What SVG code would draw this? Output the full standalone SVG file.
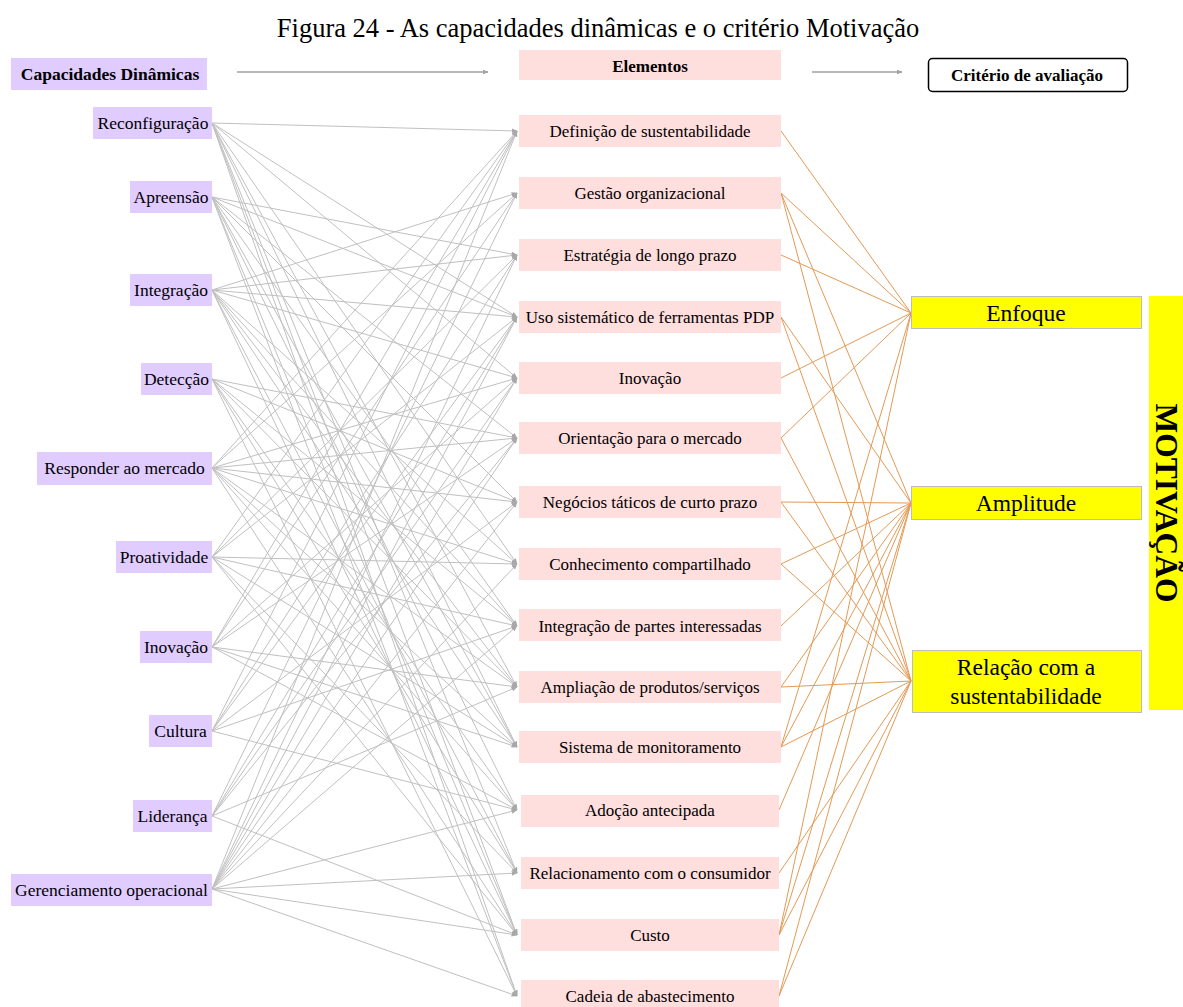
<svg xmlns="http://www.w3.org/2000/svg" width="1183" height="1007" viewBox="0 0 1183 1007">
<style>
text{font-family:"Liberation Serif","Times New Roman",serif;fill:#000}
.cap rect{fill:#E0CCFF}
.cap text{font-size:17.5px;text-anchor:middle}
.el rect{fill:#FFDEDE}
.el text{font-size:17px;text-anchor:middle}
.cr rect{fill:#FFFF00;stroke:#BDBDBD;stroke-width:1}
.cr text{font-size:23.5px;text-anchor:middle}
.g path{stroke:#C0C0C0;stroke-width:1;fill:none;marker-end:url(#ah)}
.o path{stroke:#E39A55;stroke-width:1;fill:none}
.hd{stroke:#A0A0A0;stroke-width:1.5;fill:none;marker-end:url(#ah2)}
</style>
<defs>
<marker id="ah" viewBox="0 0 10 10" refX="9" refY="5" markerWidth="6" markerHeight="6" markerUnits="userSpaceOnUse" orient="auto"><path d="M0 1L10 5L0 9Z" fill="#A8A8A8"/></marker>
<marker id="ah2" viewBox="0 0 10 10" refX="9" refY="5" markerWidth="6" markerHeight="6" markerUnits="userSpaceOnUse" orient="auto"><path d="M0 1L10 5L0 9Z" fill="#A0A0A0"/></marker>
</defs>
<rect width="1183" height="1007" fill="#fff"/>
<text x="598" y="37" font-size="26.5" text-anchor="middle">Figura 24 - As capacidades dinâmicas e o critério Motivação</text>

<g id="header">
<g id="h-cap" class="cap"><rect x="11" y="58" width="196" height="32"/><text x="110" y="80" font-weight="bold">Capacidades Dinâmicas</text></g>
<path class="hd" d="M237 72L488 72"/>
<g id="h-el" class="el"><rect x="519" y="50" width="262" height="30"/><text x="650" y="72" font-weight="bold">Elementos</text></g>
<path class="hd" d="M812 72L902 72"/>
<g id="h-crit"><rect x="928.5" y="58.5" width="199" height="33" rx="4" fill="#fff" stroke="#000" stroke-width="1.5"/><text x="1027" y="81" font-size="17" font-weight="bold" text-anchor="middle">Critério de avaliação</text></g>
</g>

<g id="connectors">
<g class="g">
<path d="M212 123L517 131"/><path d="M212 123L517 317"/><path d="M212 123L517 378"/><path d="M212 123L517 564"/><path d="M212 123L517 687"/><path d="M212 123L517 747"/><path d="M212 123L517 873"/><path d="M212 123L517 935"/><path d="M212 123L517 996"/>
<path d="M212 197L517 255"/><path d="M212 197L517 317"/><path d="M212 197L517 438"/><path d="M212 197L517 502"/><path d="M212 197L517 626"/><path d="M212 197L517 747"/><path d="M212 197L517 810"/><path d="M212 197L517 935"/><path d="M212 197L517 996"/>
<path d="M212 290L517 193"/><path d="M212 290L517 255"/><path d="M212 290L517 317"/><path d="M212 290L517 378"/><path d="M212 290L517 564"/><path d="M212 290L517 626"/><path d="M212 290L517 687"/><path d="M212 290L517 747"/><path d="M212 290L517 873"/><path d="M212 290L517 935"/>
<path d="M212 379L517 438"/><path d="M212 379L517 502"/><path d="M212 379L517 626"/><path d="M212 379L517 687"/><path d="M212 379L517 810"/><path d="M212 379L517 873"/><path d="M212 379L517 996"/>
<path d="M212 468L517 131"/><path d="M212 468L517 193"/><path d="M212 468L517 378"/><path d="M212 468L517 438"/><path d="M212 468L517 502"/><path d="M212 468L517 564"/><path d="M212 468L517 687"/><path d="M212 468L517 747"/><path d="M212 468L517 810"/><path d="M212 468L517 935"/>
<path d="M212 557L517 131"/><path d="M212 557L517 255"/><path d="M212 557L517 317"/><path d="M212 557L517 564"/><path d="M212 557L517 626"/><path d="M212 557L517 747"/><path d="M212 557L517 873"/><path d="M212 557L517 935"/>
<path d="M212 647L517 131"/><path d="M212 647L517 193"/><path d="M212 647L517 378"/><path d="M212 647L517 438"/><path d="M212 647L517 687"/><path d="M212 647L517 747"/><path d="M212 647L517 810"/>
<path d="M212 731L517 131"/><path d="M212 731L517 255"/><path d="M212 731L517 317"/><path d="M212 731L517 502"/><path d="M212 731L517 626"/><path d="M212 731L517 810"/>
<path d="M212 816L517 193"/><path d="M212 816L517 317"/><path d="M212 816L517 378"/><path d="M212 816L517 438"/><path d="M212 816L517 687"/><path d="M212 816L517 935"/>
<path d="M212 889L517 131"/><path d="M212 889L517 255"/><path d="M212 889L517 317"/><path d="M212 889L517 378"/><path d="M212 889L517 438"/><path d="M212 889L517 502"/><path d="M212 889L517 564"/><path d="M212 889L517 626"/><path d="M212 889L517 810"/><path d="M212 889L517 873"/><path d="M212 889L517 935"/><path d="M212 889L517 996"/>
</g>
<g class="o">
<path d="M781 131L911 313"/>
<path d="M781 193L911 313"/><path d="M781 193L911 503"/><path d="M781 193L911 681"/>
<path d="M781 255L911 313"/>
<path d="M781 317L911 503"/><path d="M781 317L911 681"/>
<path d="M781 378L911 313"/>
<path d="M781 438L911 313"/><path d="M781 438L911 681"/>
<path d="M781 502L911 503"/><path d="M781 502L911 681"/>
<path d="M781 564L911 503"/><path d="M781 564L911 681"/>
<path d="M781 626L911 503"/>
<path d="M781 687L911 681"/><path d="M781 687L911 503"/>
<path d="M781 747L911 313"/><path d="M781 747L911 503"/><path d="M781 747L911 681"/>
<path d="M779 810L911 503"/>
<path d="M779 873L911 681"/>
<path d="M779 935L911 313"/><path d="M779 935L911 503"/><path d="M779 935L911 681"/>
<path d="M779 996L911 503"/><path d="M779 996L911 681"/>
</g>
</g>

<g id="capacidades" class="cap">
<g id="c1"><rect x="93" y="107" width="119" height="32"/><text x="153" y="129">Reconfiguração</text></g>
<g id="c2"><rect x="130" y="181" width="82" height="32"/><text x="171" y="203">Apreensão</text></g>
<g id="c3"><rect x="130" y="274" width="82" height="32"/><text x="171" y="296">Integração</text></g>
<g id="c4"><rect x="141" y="363" width="71" height="32"/><text x="176.5" y="385">Detecção</text></g>
<g id="c5"><rect x="37" y="452" width="175" height="33"/><text x="124.5" y="474">Responder ao mercado</text></g>
<g id="c6"><rect x="116" y="541" width="96" height="32"/><text x="164" y="563">Proatividade</text></g>
<g id="c7"><rect x="140" y="631" width="72" height="32"/><text x="176" y="653">Inovação</text></g>
<g id="c8"><rect x="149" y="715" width="63" height="32"/><text x="180.5" y="737">Cultura</text></g>
<g id="c9"><rect x="133" y="800" width="79" height="32"/><text x="172.5" y="822">Liderança</text></g>
<g id="c10"><rect x="11" y="874" width="201" height="32"/><text x="111.5" y="896">Gerenciamento operacional</text></g>
</g>

<g id="elementos" class="el">
<g id="e1"><rect x="519" y="115" width="262" height="32"/><text x="650" y="137">Definição de sustentabilidade</text></g>
<g id="e2"><rect x="519" y="177" width="262" height="32"/><text x="650" y="199">Gestão organizacional</text></g>
<g id="e3"><rect x="519" y="239" width="262" height="32"/><text x="650" y="261">Estratégia de longo prazo</text></g>
<g id="e4"><rect x="519" y="301" width="262" height="32"/><text x="650" y="323">Uso sistemático de ferramentas PDP</text></g>
<g id="e5"><rect x="519" y="362" width="262" height="32"/><text x="650" y="384">Inovação</text></g>
<g id="e6"><rect x="519" y="422" width="262" height="32"/><text x="650" y="444">Orientação para o mercado</text></g>
<g id="e7"><rect x="519" y="486" width="262" height="32"/><text x="650" y="508">Negócios táticos de curto prazo</text></g>
<g id="e8"><rect x="519" y="548" width="262" height="32"/><text x="650" y="570">Conhecimento compartilhado</text></g>
<g id="e9"><rect x="519" y="609" width="262" height="32"/><text x="650" y="632">Integração de partes interessadas</text></g>
<g id="e10"><rect x="519" y="671" width="262" height="32"/><text x="650" y="693">Ampliação de produtos/serviços</text></g>
<g id="e11"><rect x="519" y="731" width="262" height="32"/><text x="650" y="753">Sistema de monitoramento</text></g>
<g id="e12"><rect x="521" y="795" width="258" height="32"/><text x="650" y="816">Adoção antecipada</text></g>
<g id="e13"><rect x="521" y="857" width="258" height="32"/><text x="650" y="879">Relacionamento com o consumidor</text></g>
<g id="e14"><rect x="521" y="919" width="258" height="32"/><text x="650" y="941">Custo</text></g>
<g id="e15"><rect x="521" y="980" width="258" height="32"/><text x="650" y="1002">Cadeia de abastecimento</text></g>
</g>

<g id="criterios" class="cr">
<g id="r1"><rect x="911.5" y="296.5" width="230" height="32"/><text x="1026" y="321">Enfoque</text></g>
<g id="r2"><rect x="911.5" y="486.5" width="230" height="33"/><text x="1026" y="511">Amplitude</text></g>
<g id="r3"><rect x="912.5" y="650.5" width="229" height="62"/><text x="1026" y="675">Relação com a</text><text x="1026" y="704">sustentabilidade</text></g>
</g>

<g id="motivacao"><rect x="1149" y="296" width="34" height="414" fill="#FFFF00"/><text transform="translate(1166 503) rotate(90)" x="0" y="10.5" font-size="31.5" font-weight="bold" text-anchor="middle">MOTIVAÇÃO</text></g>
</svg>
